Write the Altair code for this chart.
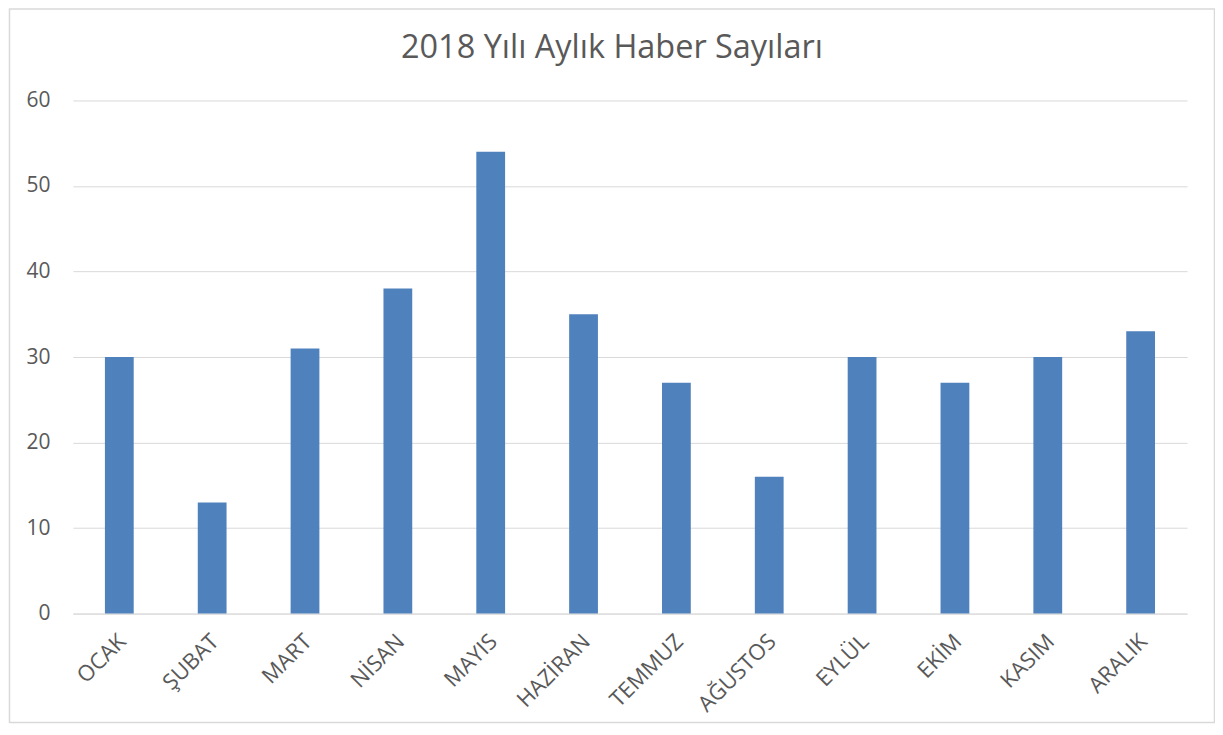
import altair as alt
import pandas as pd

months = ["OCAK", "ŞUBAT", "MART", "NİSAN", "MAYIS", "HAZİRAN",
          "TEMMUZ", "AĞUSTOS", "EYLÜL", "EKİM", "KASIM", "ARALIK"]
counts = [30, 13, 31, 38, 54, 35, 27, 16, 30, 27, 30, 33]
y_ticks = [0, 10, 20, 30, 40, 50, 60]
title_text = "2018 Yılı Aylık Haber Sayıları"

df = pd.DataFrame({"Ay": months, "Haber": counts})

W, H = 1116, 514
FONT = "Open Sans"
GRAY = "#595959"
LINE = "#d9d9d9"

bars = alt.Chart(df).mark_bar(color="#4f81bd").encode(
    x=alt.X("Ay:N", sort=months,
            scale=alt.Scale(paddingInner=0.69, paddingOuter=0.345),
            axis=alt.Axis(title=None, labelAngle=-45, labelAlign="right",
                          labelBaseline="middle", labelPadding=24, ticks=False,
                          domain=True, domainColor=LINE, domainWidth=1,
                          labelFontSize=22, labelColor=GRAY, labelFont=FONT,
                          labelOffset=3)),
    y=alt.Y("Haber:Q", scale=alt.Scale(domain=[0, 60], nice=False),
            axis=alt.Axis(title=None, values=y_ticks, ticks=False, domain=False,
                          grid=True, gridColor=LINE, gridWidth=1,
                          labelPadding=23, labelFontSize=21, labelColor=GRAY,
                          labelFont=FONT)),
)

border = alt.Chart(pd.DataFrame({"k": [0]})).mark_rect(
    filled=False, stroke=LINE, strokeWidth=1.5
).encode(
    x=alt.value(-63.5), x2=alt.value(W + 27.5),
    y=alt.value(-91.5), y2=alt.value(H + 109)
)

title = alt.Chart(pd.DataFrame({"t": [title_text]})).mark_text(
    font=FONT, fontSize=32.5, color=GRAY, align="center", baseline="alphabetic"
).encode(
    text="t:N", x=alt.value(540), y=alt.value(-43)
)

chart = alt.layer(border, bars, title).properties(
    width=W, height=H,
    autosize=alt.AutoSizeParams(type="none"),
    padding={"left": 65, "top": 92, "right": 28, "bottom": 110},
).configure_view(stroke=None)

chart.save("out.html", embed_options={"renderer": "svg", "actions": False})
